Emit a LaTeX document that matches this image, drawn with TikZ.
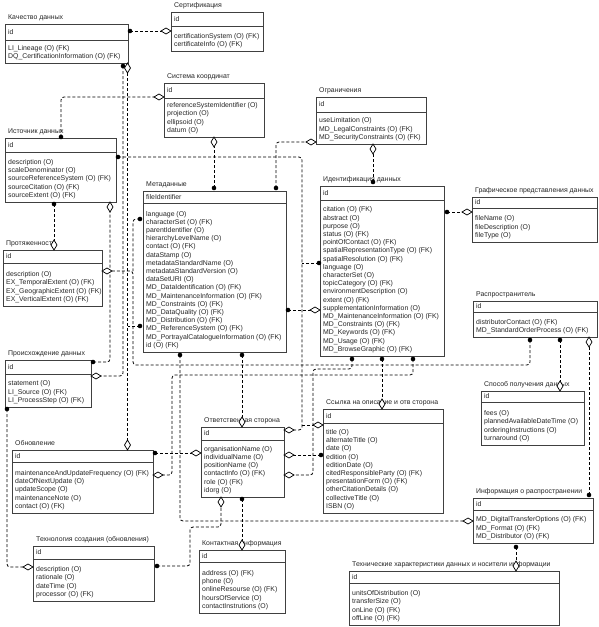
\documentclass[tikz,border=0pt]{standalone}
\usepackage{fontspec}
\setmainfont{Liberation Sans}
\tikzset{
 box/.style={draw=black!75, line width=0.6pt, fill=white, inner sep=0pt, outer sep=0pt},
 boxsep/.style={draw=black!75, line width=0.6pt},
 txt/.style={font=\fontsize{6.9}{8.2}\selectfont, text=black!85, inner sep=0pt},
 conn/.style={draw=black, line width=0.8pt, dash pattern=on 3pt off 2pt, rounded corners=3pt},
 dmd/.style={draw=black, line width=0.7pt, fill=white},
 dotf/.style={fill=black},
}
\newcommand\entity[9]{%
  \node[box, anchor=north west, minimum width={(#4-#2)*1pt}, minimum height={(#6-#3)*1pt}] (#1) at (#2,#3) {};
  \draw[boxsep] (#2,#5) -- (#4,#5);
  \node[txt, anchor=base west] (#1-t) at ({#2+3},{#3-4.5}) {#7};
  \node[txt, anchor=base west] (#1-id) at ({#2+3},{(#3+#5)/2+2.4}) {#8};
  \gdef\entN{0}%
  \foreach \t in {#9}{\xdef\entN{\the\numexpr\entN+1\relax}}%
  \foreach \t [count=\i] in {#9}{%
    \node[txt, anchor=base west] (#1-a\i) at ({#2+3},{#6-4.8-(\entN-\i)*8.2}) {\t};
  }%
}
\begin{document}
\begin{tikzpicture}[x=1pt,y=-1pt]
\useasboundingbox (0,0) rectangle (598,627);
\fill[white] (0,0) rectangle (598,627);

\entity{kach}{5}{24}{128}{40}{63}{Качество данных}{id}{LI\_Lineage (O) (FK),DQ\_CertificationInformation (O) (FK)}
\entity{sert}{171}{12}{263}{26}{51}{Сертификация}{id}{certificationSystem (O) (FK),certificateInfo (O) (FK)}
\entity{sist}{164}{83}{264}{98}{137}{Система координат}{id}{referenceSystemIdentifier (O),projection (O),ellipsoid (O),datum (O)}
\entity{ist}{5}{138}{116}{152}{202}{Источник данных}{id}{description (O),scaleDenominator (O),sourceReferenceSystem (O) (FK),sourceCitation (O) (FK),sourceExtent (O) (FK)}
\entity{prot}{3}{250}{102}{263}{306}{Протяженность}{id}{description (O),EX\_TemporalExtent (O) (FK),EX\_GeographicExtent (O) (FK),EX\_VerticalExtent (O) (FK)}
\entity{md}{143}{191}{286}{203}{352}{Метаданные}{fileIdentifier}{language (O),characterSet (O) (FK),parentIdentifier (O),hierarchyLevelName (O),contact (O) (FK),dataStamp (O),metadataStandardName (O),metadataStandardVersion (O),dataSetURI (O),MD\_DataIdentification (O) (FK),MD\_MaintenanceInformation (O) (FK),MD\_Constraints (O) (FK),MD\_DataQuality (O) (FK),MD\_Distribution (O) (FK),MD\_ReferenceSystem (O) (FK),MD\_PortrayalCatalogueInformation (O) (FK),id (O) (FK)}
\entity{proisx}{5}{360}{91}{374}{407}{Происхождение данных}{id}{statement (O),LI\_Source (O) (FK),LI\_ProcessStep (O) (FK)}
\entity{obn}{12}{450}{153}{462}{513}{Обновление}{id}{maintenanceAndUpdateFrequency (O) (FK),dateOfNextUpdate (O),updateScope (O),maintenanceNote (O),contact (O) (FK)}
\entity{tech}{33}{546}{154}{559}{601}{Технология создания (обновления)}{id}{description (O),rationale (O),dateTime (O),processor (O) (FK)}
\entity{kont}{199}{550}{285}{562}{613}{Контактная информация}{id}{address (O) (FK),phone (O),onlineResourse (O) (FK),hoursOfService (O),contactInstrutions (O)}
\entity{otv}{201}{427}{284}{440}{497}{Ответственная сторона}{id}{organisationName (O),individualName (O),positionName (O),contactInfo (O) (FK),role (O) (FK),idorg (O)}
\entity{ssyl}{323}{409}{443}{423}{513}{Ссылка на описание и отв сторона}{id}{title (O),alternateTitle (O),date (O),edition (O),editionDate (O),citedResponsibleParty (O) (FK),presentationForm (O) (FK),otherCitationDetails (O),collectiveTitle (O),ISBN (O)}
\entity{ogr}{316}{97}{426}{112}{144}{Ограничения}{id}{useLimitation (O),MD\_LegalConstraints (O) (FK),MD\_SecurityConstraints (O) (FK)}
\entity{ident}{320}{186}{444}{200}{356}{Идентификация данных}{id}{citation (O) (FK),abstract (O),purpose (O),status (O) (FK),pointOfContact (O) (FK),spatialRepresentationType (O) (FK),spatialResolution (O) (FK),language (O),characterSet (O),topicCategory (O) (FK),environmentDescription (O),extent (O) (FK),supplementationInformation (O),MD\_MaintenanceInformation (O) (FK),MD\_Constraints (O) (FK),MD\_Keywords (O) (FK),MD\_Usage (O) (FK),MD\_BrowseGraphic (O) (FK)}
\entity{graf}{472}{197}{597}{208}{242}{Графическое представления данных}{id}{fileName (O),fileDescription (O),fileType (O)}
\entity{rasp}{473}{301}{597}{312}{337}{Распространитель}{id}{distributorContact (O) (FK),MD\_StandardOrderProcess (O) (FK)}
\entity{sposob}{481}{391}{584}{402}{445}{Способ получения данных}{id}{fees (O),plannedAvailableDateTime (O),orderingInstructions (O),turnaround (O)}
\entity{info}{473}{498}{593}{510}{543}{Информация о распространении}{id}{MD\_DigitalTransferOptions (O) (FK),MD\_Format (O) (FK),MD\_Distributor (O) (FK)}
\entity{tekh}{349}{571}{559}{583}{625}{Технические характеристики данных и носители информации}{id}{unitsOfDistribution (O),transferSize (O),onLine (O) (FK),offLine (O) (FK)}

% dot ends
\coordinate (kachR) at (130,31);
\coordinate (kachB) at (123,66);
\coordinate (istT) at (61,137);
\coordinate (istR) at (118,157);
\coordinate (istB) at (54,204);
\coordinate (mdL1) at (140,219);
\coordinate (mdL2) at (140,326);
\coordinate (mdR) at (288,310);
\coordinate (mdT1) at (214,188);
\coordinate (mdT2) at (276,188);
\coordinate (mdB1) at (180,355);
\coordinate (mdB2) at (242,355);
\coordinate (prR) at (93,362);
\coordinate (prB) at (7,409);
\coordinate (obR) at (155,453);
\coordinate (teR) at (157,566);
\coordinate (otB) at (242,499);
\coordinate (ssL) at (321,455);
\coordinate (idT) at (373,182);
\coordinate (idR) at (447,212);
\coordinate (idL) at (319,263);
\coordinate (idB1) at (352,359);
\coordinate (idB2) at (382,359);
\coordinate (idB3) at (413,359);
\coordinate (raB1) at (530,340);
\coordinate (raB2) at (560,340);
\coordinate (inT) at (589,495);
\coordinate (inB) at (516,547);
% diamond ends (horizontal)
\coordinate (sertD) at (166,31);
\coordinate (sistD) at (159,97);
\coordinate (protD) at (107,271);
\coordinate (prD) at (96,376);
\coordinate (obD) at (158,475);
\coordinate (teD) at (28,567);
\coordinate (otL) at (196,453);
\coordinate (otR1) at (289,430);
\coordinate (otR2) at (289,455);
\coordinate (otR3) at (289,475);
\coordinate (ssD) at (318,425);
\coordinate (ogD) at (311,142);
\coordinate (grD) at (467,212);
\coordinate (idD) at (315,310);
\coordinate (inD) at (468,521);
% diamond ends (vertical)
\coordinate (kachD) at (127.5,68);
\coordinate (sistB) at (214,142);
\coordinate (istD) at (110,207);
\coordinate (protT) at (54,245);
\coordinate (obT) at (127.5,445);
\coordinate (otT) at (242,422);
\coordinate (otBD) at (221,502);
\coordinate (koD) at (242,545);
\coordinate (ssT) at (382,404);
\coordinate (ogB) at (373,149);
\coordinate (spD) at (560,386);
\coordinate (raD) at (589,342);
\coordinate (tkD) at (516,566);
% junctions
\coordinate (j1) at (133,271);
\coordinate (j2) at (302,425);
\coordinate (j3) at (302,263);
\coordinate (j4) at (127.5,326);

% connectors
\draw[conn] (kachR) -- (sertD);
\draw[conn] (kachB) -- (123,376) -- (prD);
\draw[conn] (kachD) -- (obT);
\draw[conn] (mdL2) -- (j4);
\draw[conn] (mdL1) -- (133,219) -- (j1);
\draw[conn] (raB1) -- (530,365) -- (133,365) -- (133,271) -- (protD);
\draw[conn] (istR) -- (302,157) -- (302,430) -- (otR1);
\draw[conn] (j2) -- (ssD);
\draw[conn] (idL) -- (j3);
\draw[conn] (istT) -- (61,97) -- (sistD);
\draw[conn] (istB) -- (protT);
\draw[conn] (prR) -- (110,362) -- (istD);
\draw[conn] (prB) -- (7,567) -- (teD);
\draw[conn] (mdT1) -- (sistB);
\draw[conn] (mdT2) -- (276,142) -- (ogD);
\draw[conn] (idT) -- (ogB);
\draw[conn] (idR) -- (grD);
\draw[conn] (mdR) -- (idD);
\draw[conn] (mdB1) -- (180,521) -- (inD);
\draw[conn] (mdB2) -- (otT);
\draw[conn] (otB) -- (koD);
\draw[conn] (teR) -- (190,566) -- (190,527) -- (221,527) -- (otBD);
\draw[conn] (obR) -- (otL);
\draw[conn] (ssL) -- (otR2);
\draw[conn] (idB1) -- (352,369) -- (313,369) -- (313,475) -- (otR3);
\draw[conn] (idB2) -- (ssT);
\draw[conn] (idB3) -- (413,375) -- (172,375) -- (172,475) -- (obD);
\draw[conn] (raB2) -- (spD);
\draw[conn] (inT) -- (raD);
\draw[conn] (inB) -- (tkD);

% markers
\foreach \c in {kachR,kachB,istT,istR,istB,mdL1,mdL2,mdR,mdT1,mdT2,mdB1,mdB2,prR,prB,obR,teR,otB,ssL,idT,idR,idL,idB1,idB2,idB3,raB1,raB2,inT,inB}
  \fill[dotf] (\c) circle (2.3);
\foreach \c in {sertD,sistD,protD,prD,obD,teD,otL,otR1,otR2,otR3,ssD,ogD,grD,idD,inD}
  \draw[dmd, shift={(\c)}] (-5,0) -- (0,-3) -- (5,0) -- (0,3) -- cycle;
\foreach \c in {kachD,sistB,istD,protT,obT,otT,otBD,koD,ssT,ogB,spD,raD,tkD}
  \draw[dmd, shift={(\c)}] (-3,0) -- (0,-5) -- (3,0) -- (0,5) -- cycle;
\end{tikzpicture}
\end{document}
